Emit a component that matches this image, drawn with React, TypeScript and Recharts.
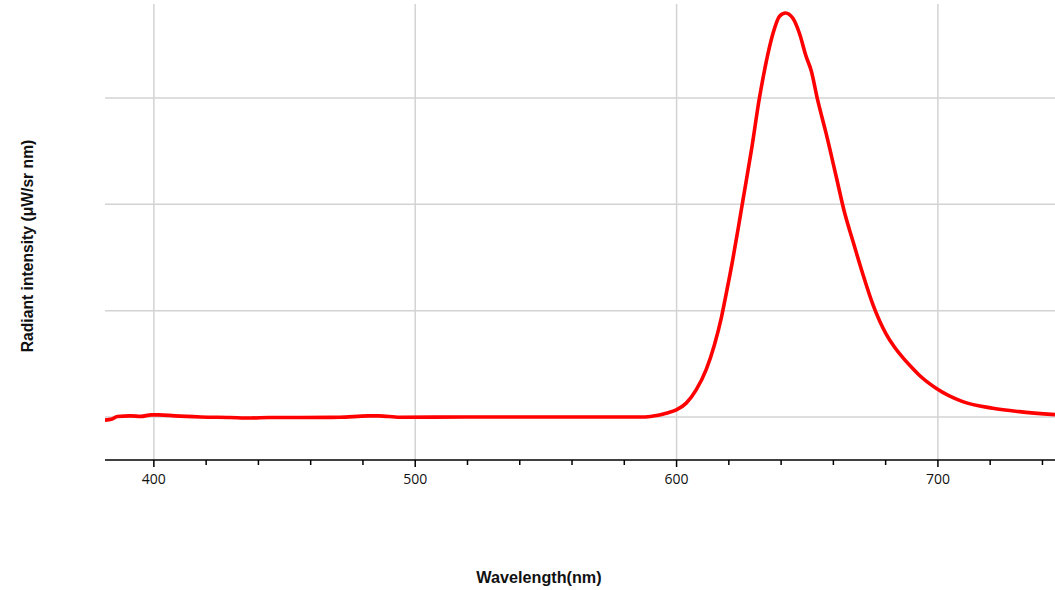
import React from "react";
import { LineChart, Line, XAxis, YAxis, CartesianGrid, ReferenceLine } from "recharts";

const wavelengths = [381.3, 384, 386, 391, 395, 399, 402, 408, 418, 429, 437, 444, 456, 471, 482, 486, 494, 520, 560, 586, 590, 593, 596.1, 599.9, 603.7, 607.5, 611.4, 614.5, 617.1, 619.0, 621.5, 624.1, 625.4, 628.7, 631.7, 634.3, 636.8, 639.4, 641.7, 644.5, 647.0, 649.6, 651.5, 654.0, 657.2, 661.1, 664.2, 667.4, 671.2, 675.1, 680.2, 683.3, 686.5, 690.2, 693.0, 699.3, 709.5, 721.0, 731.2, 744.8];
const intensities = [-0.03, -0.02, 0.005, 0.01, 0.005, 0.02, 0.02, 0.01, 0, -0.005, -0.01, -0.005, -0.005, -0.003, 0.01, 0.01, -0.003, 0, 0, 0, 0.005, 0.015, 0.035, 0.066, 0.13, 0.254, 0.45, 0.68, 0.93, 1.16, 1.48, 1.85, 2.04, 2.52, 3.0, 3.34, 3.6, 3.77, 3.8, 3.75, 3.61, 3.39, 3.26, 2.98, 2.67, 2.26, 1.93, 1.66, 1.35, 1.06, 0.78, 0.66, 0.56, 0.46, 0.39, 0.27, 0.144, 0.082, 0.05, 0.022];

const xTicks = [400, 420, 440, 460, 480, 500, 520, 540, 560, 580, 600, 620, 640, 660, 680, 700, 720, 740];
const majorTicks = [400, 500, 600, 700];
const yGrid = [0, 1, 2, 3];

const data = wavelengths.map((w, i) => ({ w, v: intensities[i] }));

const XTick = (props: any) => {
  const { x, y, payload } = props;
  const major = majorTicks.includes(payload.value);
  return (
    <g>
      <line x1={x} x2={x} y1={y} y2={y + (major ? 7 : 5)} stroke="#000" strokeWidth={1.5} />
      {major && (
        <text x={x} y={y + 24} textAnchor="middle" fontFamily="'Open Sans', sans-serif" fontSize={14} fill="#111">
          {payload.value}
        </text>
      )}
    </g>
  );
};

export default function App() {
  return (
    <div style={{ position: "absolute", left: 0, top: 0, width: 1055, height: 590, background: "#fff" }}>
      <LineChart width={1055} height={590} data={data} margin={{ top: 4, right: 0, left: 0, bottom: 0 }}>
        <CartesianGrid stroke="#d3d3d3" strokeWidth={1.5} horizontal={false} verticalValues={majorTicks} />
        {yGrid.map((v) => (
          <ReferenceLine key={v} y={v} stroke="#d3d3d3" strokeWidth={1.5} />
        ))}
        <XAxis
          dataKey="w"
          type="number"
          domain={[381.3, 744.8]}
          allowDataOverflow
          ticks={xTicks}
          interval={0}
          height={130}
          tickSize={0}
          tickMargin={0}
          tickLine={false}
          axisLine={{ stroke: "#000", strokeWidth: 1.5 }}
          tick={<XTick />}
          label={{
            content: () => (
              <text x={539} y={583} textAnchor="middle" fontFamily="'Liberation Sans', Arial, sans-serif" fontWeight="bold" fontSize={16.2} fill="#111">
                Wavelength(nm)
              </text>
            ),
          }}
        />
        <YAxis
          type="number"
          domain={[-0.405, 3.885]}
          allowDataOverflow
          ticks={yGrid}
          interval={0}
          width={105}
          tick={false}
          tickLine={false}
          axisLine={false}
          label={{
            content: () => (
              <text
                x={33}
                y={246}
                transform="rotate(-90 33 246)"
                textAnchor="middle"
                fontFamily="'Liberation Sans', Arial, sans-serif"
                fontWeight="bold"
                fontSize={15.7}
                fill="#111"
              >
                Radiant intensity (μW/sr nm)
              </text>
            ),
          }}
        />
        <Line
          dataKey="v"
          type="monotone"
          stroke="#ff0000"
          strokeWidth={3.6}
          dot={false}
          isAnimationActive={false}
        />
      </LineChart>
    </div>
  );
}
